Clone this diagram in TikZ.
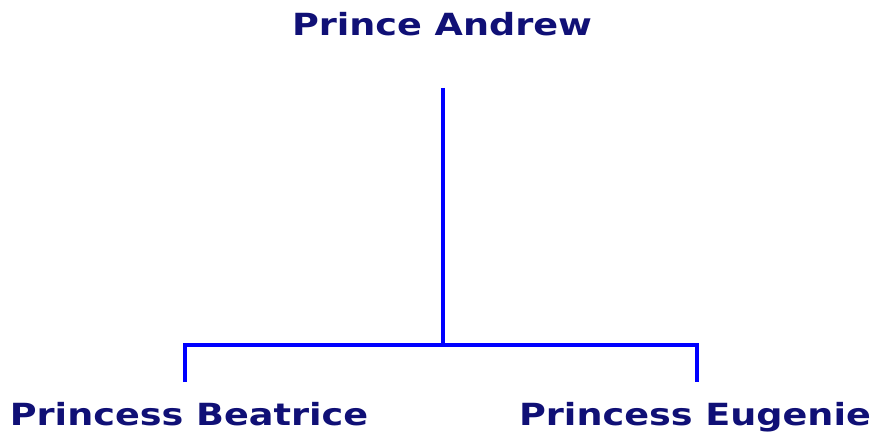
\documentclass[tikz,border=0pt]{standalone}
\usepackage{fontspec}
\newfontfamily\vfont[FakeStretch=1.2]{DejaVu Sans}
\definecolor{namecol}{RGB}{16,16,118}
\definecolor{linecol}{RGB}{0,0,255}
\begin{document}
\begin{tikzpicture}[x=1pt,y=1pt,
  person/.style={font=\vfont\bfseries\fontsize{30.5}{30}\selectfont, text=namecol, inner sep=0pt, anchor=base},
  link/.style={draw=linecol, line width=3.8pt, line cap=butt, line join=miter}]
\useasboundingbox (0,0) rectangle (872,432);
\node[person] (pa) at (442,396) {Prince Andrew};
\node[person] (pb) at (189,6.5) {Princess Beatrice};
\node[person] (pe) at (695,6.5) {Princess Eugenie};
\coordinate (top) at (443,344);
\coordinate (mid) at (443,87);
\coordinate (lb) at (185,50);
\coordinate (rb) at (697,50);
\draw[link] (top) -- (mid);
\draw[link] (lb) -- (lb|-mid) -- (rb|-mid) -- (rb);
\end{tikzpicture}
\end{document}
